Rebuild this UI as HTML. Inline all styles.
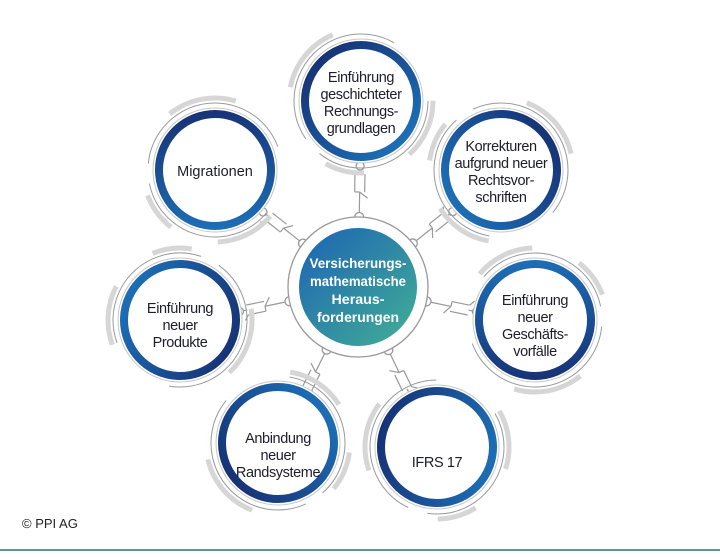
<!DOCTYPE html>
<html><head><meta charset="utf-8"><style>
body{margin:0;background:#fff;width:720px;height:552px;overflow:hidden;font-family:"Liberation Sans",sans-serif}
</style></head><body>
<svg width="720" height="552" viewBox="0 0 720 552" xmlns="http://www.w3.org/2000/svg">
<defs>
<linearGradient id="ring" x1="0" y1="0" x2="1" y2="1"><stop offset="0" stop-color="#16296b"/><stop offset="1" stop-color="#1e78c0"/></linearGradient>
<linearGradient id="cen" x1="0" y1="0" x2="1" y2="1"><stop offset="0" stop-color="#1c62b4"/><stop offset="1" stop-color="#42b095"/></linearGradient>
<g id="conn">
<circle cx="70" cy="0" r="4.5" fill="#fff" stroke="#999" stroke-width="1.3"/>
<line x1="74.5" y1="0" x2="95" y2="0" stroke="#999" stroke-width="1.2"/>
<line x1="95" y1="-5" x2="113" y2="-5" stroke="#999" stroke-width="1.2"/>
<line x1="95" y1="5" x2="113" y2="5" stroke="#999" stroke-width="1.2"/>
<line x1="95" y1="0" x2="95" y2="-5" stroke="#999" stroke-width="1.2"/>
<line x1="95" y1="0" x2="89" y2="8" stroke="#999" stroke-width="1.2"/>
<line x1="113" y1="-5" x2="117" y2="-10" stroke="#999" stroke-width="1.2"/>
<line x1="113" y1="0" x2="121" y2="0" stroke="#999" stroke-width="1.2"/>
<circle cx="121" cy="0" r="4" fill="#fff" stroke="#999" stroke-width="1.3"/>
</g>
<g id="sat">
<circle r="72" fill="none" stroke="#d6d6d6" stroke-width="5" stroke-dasharray="60 50 40 90 70 142"/>
<circle r="67" fill="none" stroke="#9a9a9a" stroke-width="1" stroke-dasharray="150 20 180 71"/>
<circle r="62" fill="#fff" stroke="#c8c8c8" stroke-width="1"/>
<circle r="56" fill="#fff" stroke="url(#ring)" stroke-width="8"/>
</g>
</defs>
<g transform="translate(358,287)">
<use href="#conn" transform="rotate(-89)"/>
<use href="#conn" transform="rotate(-141.7)"/>
<use href="#conn" transform="rotate(-38.5)"/>
<use href="#conn" transform="rotate(168.3)"/>
<use href="#conn" transform="rotate(11.8)"/>
<use href="#conn" transform="rotate(116.6)"/>
<use href="#conn" transform="rotate(64.3)"/>
<circle r="70" fill="#fff" stroke="#999" stroke-width="1.3"/>
<circle r="59" fill="url(#cen)"/>
</g>
<use href="#sat" x="361" y="101"/>
<use href="#sat" x="215" y="170" transform="rotate(40 215 170)"/>
<use href="#sat" x="501" y="170" transform="rotate(100 501 170)"/>
<use href="#sat" x="180" y="320" transform="rotate(160 180 320)"/>
<use href="#sat" x="535" y="320" transform="rotate(220 535 320)"/>
<use href="#sat" x="278" y="443" transform="rotate(280 278 443)"/>
<use href="#sat" x="437" y="447" transform="rotate(330 437 447)"/>
<g font-size="14.5" letter-spacing="-0.4" fill="#1d1d2b" text-anchor="middle">
<text x="361" y="82">Einführung</text><text x="361" y="99">geschichteter</text><text x="361" y="116">Rechnungs-</text><text x="361" y="133">grundlagen</text>
<text x="215" y="176" letter-spacing="0">Migrationen</text>
<text x="501" y="151">Korrekturen</text><text x="501" y="168">aufgrund neuer</text><text x="501" y="185">Rechtsvor-</text><text x="501" y="202">schriften</text>
<text x="180" y="313">Einführung</text><text x="180" y="330">neuer</text><text x="180" y="347">Produkte</text>
<text x="535" y="305">Einführung</text><text x="535" y="322">neuer</text><text x="535" y="339">Geschäfts-</text><text x="535" y="356">vorfälle</text>
<text x="278" y="443">Anbindung</text><text x="278" y="460">neuer</text><text x="278" y="477">Randsysteme</text>
<text x="437" y="467">IFRS 17</text>
</g>
<g font-size="13.5" font-weight="bold" fill="#fff" text-anchor="middle">
<text x="358" y="268" textLength="97" lengthAdjust="spacingAndGlyphs">Versicherungs-</text>
<text x="358" y="286" textLength="96" lengthAdjust="spacingAndGlyphs">mathematische</text>
<text x="358" y="304" textLength="53" lengthAdjust="spacingAndGlyphs">Heraus-</text>
<text x="358" y="322" textLength="82" lengthAdjust="spacingAndGlyphs">forderungen</text>
</g>
<text x="22" y="528" font-size="13" fill="#222">© PPI AG</text>
<rect x="0" y="549" width="720" height="2" fill="#5a9a8e"/>
</svg>
</body></html>
